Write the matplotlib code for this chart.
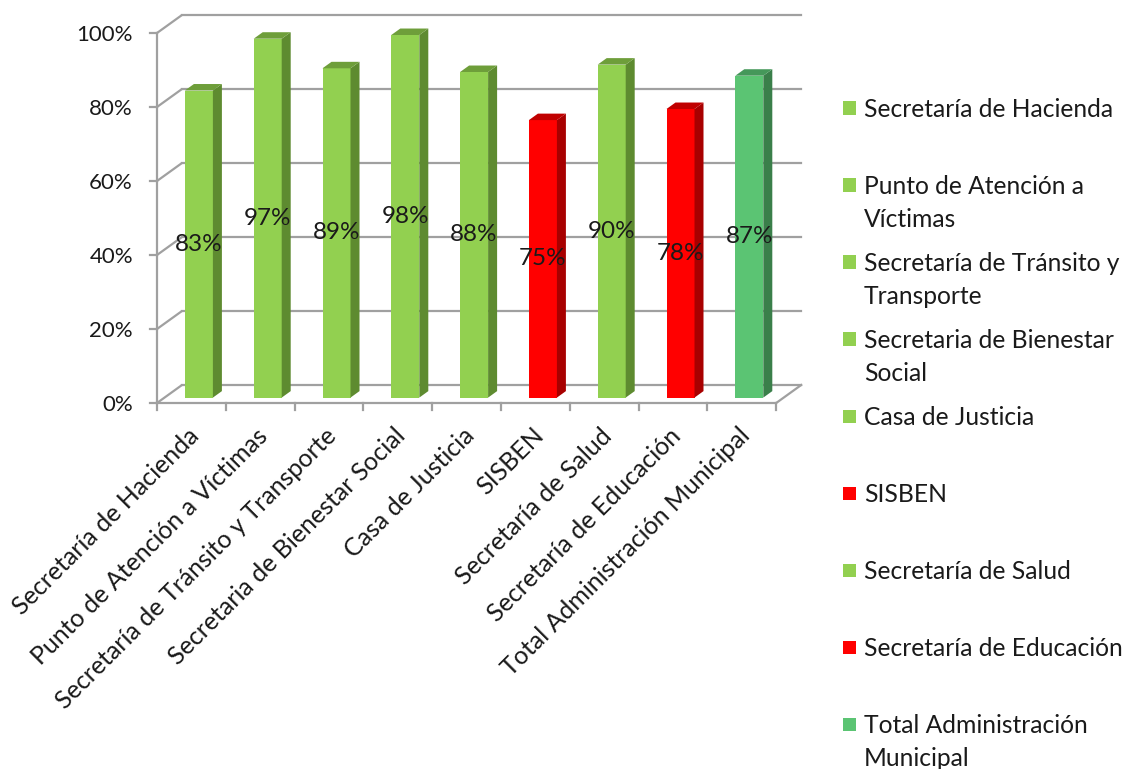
import textwrap
import matplotlib
matplotlib.use("Agg")
import matplotlib.pyplot as plt
from matplotlib.patches import Polygon, Rectangle

plt.rcParams['font.family'] = ['Lato', 'DejaVu Sans']

categories = [
    "Secretaría de Hacienda",
    "Punto de Atención a Víctimas",
    "Secretaría de Tránsito y Transporte",
    "Secretaria de Bienestar Social",
    "Casa de Justicia",
    "SISBEN",
    "Secretaría de Salud",
    "Secretaría de Educación",
    "Total Administración Municipal",
]
values = [83, 97, 89, 98, 88, 75, 90, 78, 87]
value_labels = ["83%", "97%", "89%", "98%", "88%", "75%", "90%", "78%", "87%"]
y_ticks = [0, 20, 40, 60, 80, 100]
y_tick_labels = ["0%", "20%", "40%", "60%", "80%", "100%"]
status = ["ok", "ok", "ok", "ok", "ok", "low", "ok", "low", "total"]

palette = {
    "ok": ("#92D050", "#5E8B30", "#6E9E3A"),
    "low": ("#FF0000", "#A80000", "#C00000"),
    "total": ("#5BC473", "#3A7F4A", "#45985A"),
}

W, H, DPI = 1126, 769, 100
fig = plt.figure(figsize=(W / DPI, H / DPI), dpi=DPI)

# pixel geometry of the plot frame
px_left, px_zero = 157, 403
ux, uy = 68.8, 3.7          # px per category / per percent
xmin, xmax = -0.5, 9.0
ymin, ymax = 0, 106
ax = fig.add_axes([px_left / W, (H - px_zero) / H,
                   (xmax - xmin) * ux / W, (ymax - ymin) * uy / H])
ax.set_xlim(xmin, xmax)
ax.set_ylim(ymin, ymax)
ax.axis('off')

n = len(categories)
ddx, ddy = 25 / ux, 18 / uy      # full depth of the floor in data units
f0, f1 = 0.30, 0.66              # bar front / back depth fractions
bw = 28 / ux
grid_c = "#A0A0A0"
lw = 1.6
txt_c = "#1A1A1A"

# walls / gridlines
for g, gl in zip(y_ticks, y_tick_labels):
    ax.plot([-0.5, -0.5 + ddx], [g, g + ddy], color=grid_c, lw=lw, clip_on=False, zorder=1,
            solid_capstyle='butt')
    ax.plot([-0.5 + ddx, n - 0.5 + ddx], [g + ddy, g + ddy], color=grid_c, lw=lw,
            clip_on=False, zorder=1)
    ax.plot([-0.5 - 7 / ux, -0.5], [g, g], color=grid_c, lw=lw, clip_on=False, zorder=1)
    ax.text(-0.5 - 24 / ux, g - 0.6, gl, ha='right', va='center',
            fontsize=16, color=txt_c)
ax.plot([-0.5, -0.5], [0, 100], color=grid_c, lw=lw, clip_on=False, zorder=1)
ax.plot([-0.5, n - 0.5], [0, 0], color=grid_c, lw=lw, clip_on=False, zorder=1)
ax.plot([n - 0.5, n - 0.5 + ddx], [0, ddy], color=grid_c, lw=lw, clip_on=False, zorder=1)
for k in range(n + 1):
    ax.plot([k - 0.5, k - 0.5], [0, -7 / uy], color=grid_c, lw=lw, clip_on=False, zorder=1)

# bars
xs = [i + f0 * ddx for i in range(n)]
base = f0 * ddy
fronts = [palette[s][0] for s in status]
ax.bar(xs, values, width=bw, bottom=base, color=fronts, zorder=3, linewidth=0)
dX, dY = (f1 - f0) * ddx, (f1 - f0) * ddy
for x, v, s in zip(xs, values, status):
    _, side_c, top_c = palette[s]
    xl, xr = x - bw / 2, x + bw / 2
    ax.add_patch(Polygon([(xr, base), (xr + dX, base + dY), (xr + dX, base + v + dY), (xr, base + v)],
                         closed=True, facecolor=side_c, edgecolor='none', zorder=3))
    ax.add_patch(Polygon([(xl, base + v), (xr, base + v), (xr + dX, base + v + dY), (xl + dX, base + v + dY)],
                         closed=True, facecolor=top_c, edgecolor='none', zorder=3))

# value labels
for x, v, lab in zip(xs, values, value_labels):
    ax.text(x, base + v / 2, lab, ha='center', va='center', fontsize=17.5, color=txt_c, zorder=5)

# category labels
for i, c in enumerate(categories):
    ax.text(i + 0.06, -29 / uy, c, rotation=45, rotation_mode='anchor', ha='right', va='center',
            fontsize=18, color=txt_c)

# legend
for i, (c, s) in enumerate(zip(categories, status)):
    y = 108 + i * 77
    fig.patches.append(Rectangle((843 / W, 1 - (y + 6.5) / H), 13 / W, 13 / H,
                                 transform=fig.transFigure, facecolor=palette[s][0],
                                 edgecolor='none'))
    fig.text(864 / W, 1 - (y - 10) / H, textwrap.fill(c, 24), ha='left', va='top',
             fontsize=17.7, color=txt_c, linespacing=1.55)

fig.savefig("out.png", dpi=DPI)
